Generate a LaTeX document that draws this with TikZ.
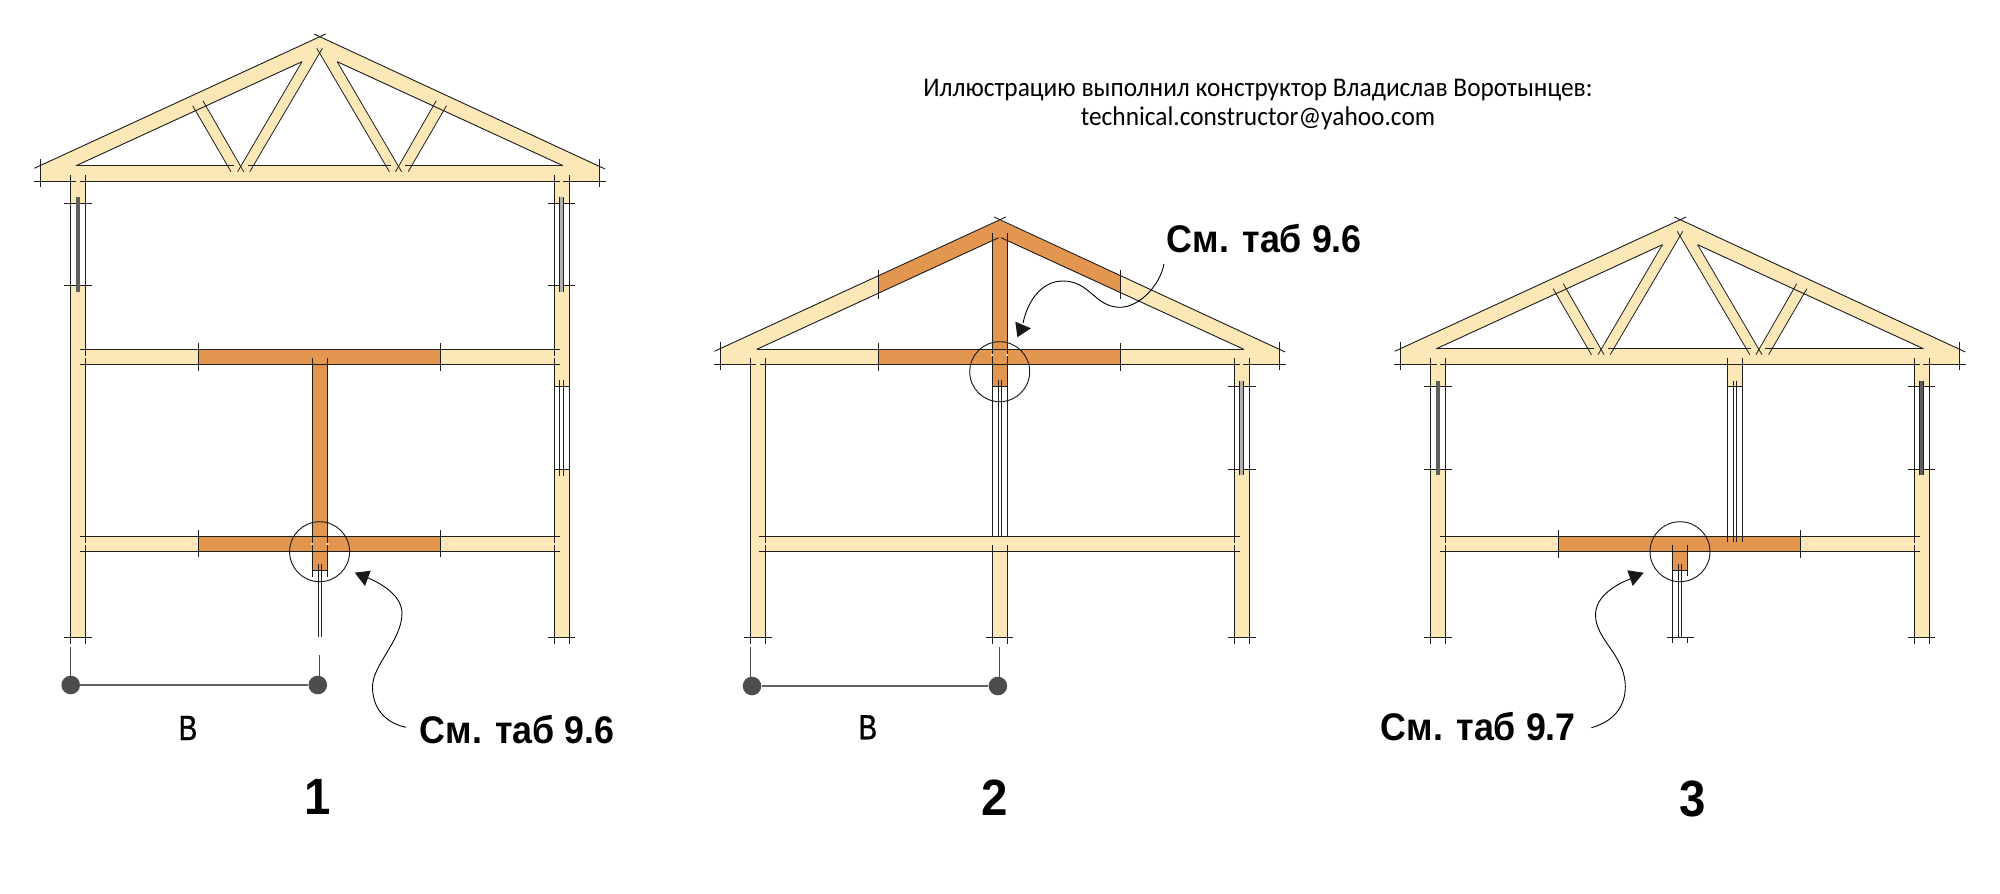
\documentclass[tikz,border=0pt]{standalone}
\usepackage{fontspec}
\setmainfont{Liberation Sans}
\newfontfamily\headfont[FakeStretch=0.94]{Carlito}
\newfontfamily\axisfont[FakeStretch=0.8,FakeBold=1]{Liberation Sans}
\newfontfamily\callfont[FakeStretch=0.93]{Liberation Sans}
\definecolor{wood}{RGB}{252,232,183}
\definecolor{hot}{RGB}{227,150,80}
\definecolor{ink}{RGB}{30,30,30}
\definecolor{glassdark}{RGB}{95,95,95}
\definecolor{glasslight}{RGB}{175,175,175}
\definecolor{dotgray}{RGB}{77,77,77}
\tikzset{
  ln/.style={draw=ink,line width=0.92pt},
  thin ln/.style={draw=ink,line width=0.8pt},
  woodf/.style={fill=wood},
  hotf/.style={fill=hot},
  callout/.style={font=\callfont\fontsize{38.5}{42}\bfseries\selectfont,inner sep=0,anchor=base,text=black},
  bignum/.style={font=\callfont\fontsize{51}{56}\bfseries\selectfont,inner sep=0,anchor=base,text=black},
  axislab/.style={font=\axisfont\fontsize{35}{40}\selectfont,inner sep=0,anchor=base,text=black},
  headlab/.style={font=\headfont\fontsize{27}{32}\selectfont,inner sep=0,anchor=base,text=black},
  griddot/.style={circle,fill=dotgray,inner sep=0,minimum size=18.6pt},
  gridln/.style={draw=black!62,line width=1.2pt},
  gridtick/.style={draw=black!70,line width=0.9pt},
  detail/.style={circle,draw=ink,line width=0.95pt,inner sep=0,minimum size=60pt},
  leader/.style={draw=black,line width=0.9pt},
  head/.style={fill=black!90},
}
% outer roof shape, house-1 coordinates
\newcommand\roofbase{%
  \fill[woodf] (40,165.6)--(319.6,37.3)--(599,165.6)--(599,181)--(40,181)--cycle;
}
\newcommand\roofoutline{%
  \draw[ln] (34.3,168.3)--(325.7,34);
  \draw[ln] (314,34)--(605,169);
  \draw[thin ln] (40,159)--(40,187);
  \draw[thin ln] (599,159)--(599,187);
  \draw[ln] (33.5,181)--(76.3,181);
  \draw[ln] (79.6,181)--(560,181);
  \draw[ln] (563,181)--(606,181);
}
\newcommand\trussinner{%
  \fill[white] (76,165.7)--(302,61.7)--(241.1,165.7)--cycle;
  \fill[white] (319.6,53)--(253.3,165.7)--(385.9,165.7)--cycle;
  \fill[white] (337.2,61.7)--(563,165.7)--(398.1,165.7)--cycle;
  \fill[woodf] (192.7,105.7)--(202.9,100.7)--(243.7,171.7)--(231,171.7)--cycle;
  \fill[woodf] (446.5,105.7)--(436.3,100.7)--(395.5,171.7)--(408.2,171.7)--cycle;
  \draw[ln] (76,165.7)--(302,61.7);
  \draw[ln] (337.2,61.7)--(563,165.7);
  \draw[ln] (76,165.7)--(234,165.7);
  \draw[ln] (248,165.7)--(391,165.7);
  \draw[ln] (405,165.7)--(563,165.7);
  \draw[thin ln] (192.7,105.7)--(231,171.7);
  \draw[thin ln] (202.9,100.7)--(243.7,171.7);
  \draw[thin ln] (302,61.7)--(237.6,171.7);
  \draw[thin ln] (322.4,48.3)--(249.8,171.7);
  \draw[thin ln] (446.5,105.7)--(408.2,171.7);
  \draw[thin ln] (436.3,100.7)--(395.5,171.7);
  \draw[thin ln] (337.2,61.7)--(401.6,171.7);
  \draw[thin ln] (316.8,48.3)--(389.4,171.7);
}
% wall: xl xr ytop
\newcommand\wallfill[3]{\fill[woodf] (#1,#3) rectangle (#2,637.5);}
\newcommand\wallline[3]{%
  \draw[ln] (#1,#3)--(#1,643.5);
  \draw[ln] (#2,#3)--(#2,643.5);
  \draw[ln] (#1-6.2,637.5)--(#2+6.2,637.5);
}
% window with dark or light bar: xl xr y1 y2
\newcommand\glassfill[4]{\fill[white] (#1,#3) rectangle (#2,#4);}
\newcommand\glassticks[4]{%
  \draw[ln] (#1-6.2,#3)--(#2+6.2,#3);
  \draw[ln] (#1-6.2,#4)--(#2+6.2,#4);
}
\newcommand\darkbar[3]{\draw[draw=glassdark,line width=3.7pt] (#1,#2)--(#1,#3);}
\newcommand\lightbar[3]{%
  \draw[draw=glasslight,line width=2.6pt] (#1,#2)--(#1,#3);
  \draw[thin ln] (#1-1.9,#2)--(#1-1.9,#3);
  \draw[thin ln] (#1+1.9,#2)--(#1+1.9,#3);
}
% small break in a vertical line
\newcommand\gapv[2]{\fill[woodf] (#1-1.1,#2-1.3) rectangle (#1+1.1,#2+1.3);}
\begin{document}
\begin{tikzpicture}[x=1pt,y=-1pt]
\useasboundingbox (0,0) rectangle (2000,894);
\fill[white] (0,0) rectangle (2000,894);

%%%%%%%%%%%%%%%% HOUSE 1
\wallfill{70.2}{85.7}{175}
\wallfill{554.3}{569}{175}
\glassfill{70.2}{85.7}{203.3}{285.7}
\glassfill{554.3}{569}{203.3}{285.7}
\glassfill{554.3}{569}{386.7}{469.3}
% floors
\fill[woodf] (85.7,349.3) rectangle (554.3,364);
\fill[woodf] (85.7,536.3) rectangle (554.3,551.3);
\fill[hotf] (198.8,349.3) rectangle (440.8,364);
\fill[hotf] (198.8,536.3) rectangle (440.8,551.3);
\fill[hotf] (312.2,364) rectangle (327.3,570.7);
\roofbase
\trussinner
\roofoutline
\wallline{70.2}{85.7}{175}
\wallline{554.3}{569}{175}
\glassticks{70.2}{85.7}{203.3}{285.7}
\glassticks{554.3}{569}{203.3}{285.7}
\darkbar{78}{197.3}{292}
\lightbar{561.6}{197.3}{292}
\draw[ln] (554.3,386.7)--(569,386.7);
\draw[ln] (554.3,469.3)--(569,469.3);
\draw[thin ln] (559.6,380)--(559.6,475.7);
\draw[thin ln] (563.7,380)--(563.7,475.7);
\foreach \yy/\yb in {349.3/364,536.3/551.3}{
  \draw[ln] (79.6,\yy)--(560,\yy);
  \draw[ln] (79.6,\yb)--(560,\yb);
}
\foreach \xx in {198.8,440.8}{
  \draw[thin ln] (\xx,343)--(\xx,370.7);
  \draw[thin ln] (\xx,530)--(\xx,557.3);
}
\draw[ln] (312.2,357.7)--(312.2,576.7);
\draw[ln] (327.5,357.7)--(327.5,576.7);
\draw[ln] (312.2,570.7)--(327.5,570.7);
\draw[thin ln] (318,564)--(318,637.3);
\draw[thin ln] (321,564)--(321,637.3);
\gapv{85.7}{357}
\gapv{85.7}{544}
\gapv{554.3}{357}
\gapv{554.3}{544}
\gapv{312.2}{544}
\gapv{327.5}{544}
\node[detail] (c1) at (319.6,551.7) {};

\coordinate (g1a) at (70.3,647.3);
\coordinate (g1b) at (319.9,655);
\draw[gridtick] (g1a)--(70.3,685);
\draw[gridtick] (g1b)--(319.9,685);
\node[griddot] (d1a) at (70.7,685) {};
\node[griddot] (d1b) at (317.8,685) {};
\draw[gridln] (d1a)--(d1b);
\node[axislab] (b1) at (188,740) {В};
\node[callout] (lab1) at (517.3,743.3) {См. таб 9.6};
\node[bignum] (n1) at (317.8,814) {1};
\coordinate (t1) at (354.7,572.7);
\draw[leader] (406,727.3) .. controls (385,723) and (372.5,708) .. (372.5,686.7) .. controls (372.5,665) and (402,640) .. (402,613.3) .. controls (402,595) and (380,582) .. (362,575.5);
\fill[head] (t1)--(370.7,570.7)--(365,586)--cycle;

%%%%%%%%%%%%%%%% HOUSE 2
\wallfill{750.3}{765.5}{358.3}
\wallfill{1234.3}{1249.4}{358.3}
\wallfill{992.3}{1007}{545}
\glassfill{1234.3}{1249.4}{386.7}{469}
\fill[woodf] (765.5,536.7) rectangle (1234.3,551.3);
\begin{scope}[shift={(680.1,183)}]
  \roofbase
\end{scope}
\fill[white] (756.8,349.3)--(999.7,237.3)--(1243.8,349.3)--cycle;
\fill[hotf] (878.2,276)--(999.7,220.3)--(1120.6,275.8)--(1120.6,292.8)--(999.7,237.3)--(878.2,293.3)--cycle;
\fill[hotf] (878.7,349.3) rectangle (1120.6,364);
\fill[hotf] (992.3,236) rectangle (1007,386.7);
\begin{scope}[shift={(680.1,183)}]
  \roofoutline
\end{scope}
\draw[ln] (756.8,349.3)--(998.7,237.7);
\draw[ln] (1001,237.7)--(1243.8,349.3);
\draw[ln] (756.8,349.3)--(1243.8,349.3);
\wallline{750.3}{765.5}{358.3}
\wallline{1234.3}{1249.4}{358.3}
\glassticks{1234.3}{1249.4}{386.7}{469}
\lightbar{1241.2}{380.7}{475.3}
\foreach \xx in {878.2,1120.6}{
  \draw[thin ln] (\xx,270.3)--(\xx,299);
  \draw[thin ln] (\xx,343.3)--(\xx,370.7);
}
\draw[ln] (992.3,233.3)--(992.3,536.7);
\draw[ln] (1007,233.3)--(1007,536.7);
\draw[ln] (992.3,386.7)--(1007,386.7);
\draw[thin ln] (998.3,380)--(998.3,536.7);
\draw[thin ln] (1001,380)--(1001,536.7);
\draw[ln] (759,536.7)--(1240.3,536.7);
\draw[ln] (759,551.3)--(1240.3,551.3);
\wallline{992.3}{1007}{545.3}
\gapv{765.5}{544}
\gapv{1234.3}{544}
\gapv{992.3}{355}
\gapv{1007}{355}
\node[detail] (c2) at (999.7,371.7) {};
\coordinate (g2a) at (750.3,647.3);
\coordinate (g2b) at (999.7,647.3);
\draw[gridtick] (g2a)--(750.3,686);
\draw[gridtick] (g2b)--(999.7,686);
\node[griddot] (d2a) at (752,686) {};
\node[griddot] (d2b) at (997.9,686) {};
\draw[gridln] (d2a)--(d2b);
\node[axislab] (b2) at (867.8,739.3) {В};
\node[callout] (lab2) at (1264.4,252.7) {См. таб 9.6};
\node[bignum] (n2) at (994.5,815) {2};
\coordinate (t2) at (1017.4,337.3);
\draw[leader] (1164,264) .. controls (1160,285) and (1140,307) .. (1120,307.3) .. controls (1095,307.3) and (1090,281) .. (1063,281) .. controls (1042,281) and (1028,300) .. (1023,323);
\fill[head] (t2)--(1015.3,321.7)--(1030.9,328.3)--cycle;

%%%%%%%%%%%%%%%% HOUSE 3
\wallfill{1430.4}{1445.7}{358.3}
\wallfill{1914.3}{1929.1}{358.3}
\glassfill{1430.4}{1445.7}{386.7}{469}
\glassfill{1914.3}{1929.1}{386.7}{469}
\fill[woodf] (1445.7,536.7) rectangle (1914.3,551.3);
\fill[hotf] (1558.8,536.7) rectangle (1800.8,551.3);
\fill[hotf] (1672.2,545) rectangle (1687.8,570.3);
\fill[woodf] (1727,358.3) rectangle (1742.2,386.7);
\begin{scope}[shift={(1360.4,183)}]
  \roofbase
  \trussinner
  \roofoutline
\end{scope}
\wallline{1430.4}{1445.7}{358.3}
\wallline{1914.3}{1929.1}{358.3}
\glassticks{1430.4}{1445.7}{386.7}{469}
\glassticks{1914.3}{1929.1}{386.7}{469}
\darkbar{1438.1}{380.7}{475.3}
\darkbar{1921.7}{380.7}{475.3}
\draw[thin ln] (1919.8,380.7)--(1919.8,475.3);
\draw[thin ln] (1923.6,380.7)--(1923.6,475.3);
% upper partition
\draw[ln] (1727,358.3)--(1727,542.3);
\draw[ln] (1742.2,358.3)--(1742.2,542.3);
\draw[ln] (1727,386.7)--(1742.2,386.7);
\draw[thin ln] (1733.5,380.7)--(1733.5,542.3);
\draw[thin ln] (1736.3,380.7)--(1736.3,542.3);
% floor
\draw[ln] (1439.6,536.7)--(1920,536.7);
\draw[ln] (1439.6,551.3)--(1920,551.3);
\foreach \xx in {1558.8,1800.8}{
  \draw[thin ln] (\xx,530.3)--(\xx,557.7);
}
% lower stub
\draw[ln] (1672.2,545.3)--(1672.2,643.3);
\draw[ln] (1687.8,545.3)--(1687.8,576);
\draw[ln] (1687.8,637.3)--(1687.8,643.3);
\draw[ln] (1672.2,570.3)--(1687.8,570.3);
\draw[thin ln] (1678.4,564.3)--(1678.4,637.3);
\draw[thin ln] (1681.6,564.3)--(1681.6,637.3);
\draw[ln] (1666.5,637.3)--(1693.5,637.3);
\gapv{1445.7}{544}
\gapv{1914.3}{544}
\node[detail] (c3) at (1680,551.7) {};
\node[callout] (lab3) at (1478.4,740) {См. таб 9.7};
\node[bignum] (n3) at (1692.6,816) {3};
\coordinate (t3) at (1643.7,572.7);
\draw[leader] (1591.4,727.7) .. controls (1612,722) and (1625.3,708) .. (1625.3,686.7) .. controls (1625.3,655) and (1595.5,640) .. (1595.5,615) .. controls (1595.5,598) and (1612,586) .. (1630.2,579);
\fill[head] (t3)--(1627.3,570.3)--(1632.7,586)--cycle;

%%%%%%%%%%%%%%%% CREDIT
\node[headlab] (cr1) at (1258,96) {Иллюстрацию выполнил конструктор Владислав Воротынцев:};
\node[headlab] (cr2) at (1258,125) {technical.constructor@yahoo.com};
\end{tikzpicture}
\end{document}
